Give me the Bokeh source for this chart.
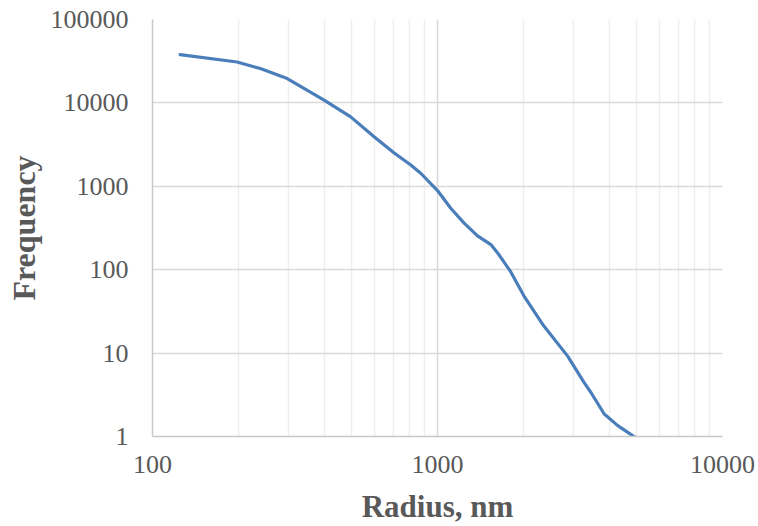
from bokeh.plotting import figure
from bokeh.models import FixedTicker, NumeralTickFormatter
from bokeh.embed import file_html
from bokeh.resources import INLINE

# Data (radius in nm, frequency)
radius = [125, 198, 239, 297, 400, 496, 599, 703, 806, 873, 1000, 1113, 1240,
          1382, 1539, 1626, 1808, 2014, 2362, 2862, 3266, 3455, 3846,
          4290, 5000]
frequency = [37900, 30900, 25800, 19600, 10800, 6800, 3930, 2520, 1800, 1434,
             890, 545, 362, 255, 200, 159, 94, 48, 21.1, 9.2, 4.45, 3.37, 1.86,
             1.35, 0.95]

x_major = [100, 1000, 10000]
x_minor = [200, 300, 400, 500, 600, 700, 800, 900,
           2000, 3000, 4000, 5000, 6000, 7000, 8000, 9000]
y_major = [1, 10, 100, 1000, 10000, 100000]

x_title = "Radius, nm"
y_title = "Frequency"

FONT = "Liberation Serif"
TXT = "#595959"

p = figure(width=758, height=526, x_axis_type="log", y_axis_type="log",
           x_range=(100, 10000), y_range=(1, 100000),
           output_backend="svg", toolbar_location=None,
           min_border_left=152, min_border_right=36,
           min_border_top=19, min_border_bottom=89)
p.outline_line_color = None
p.background_fill_color = "white"
p.border_fill_color = "white"

p.xgrid.ticker = FixedTicker(ticks=x_major, minor_ticks=x_minor)
p.xgrid.grid_line_color = "#d9d9d9"
p.xgrid.grid_line_width = 1.5
p.xgrid.minor_grid_line_color = "#eeeeee"
p.xgrid.minor_grid_line_width = 1.5
p.ygrid.ticker = FixedTicker(ticks=y_major)
p.ygrid.grid_line_color = "#d9d9d9"
p.ygrid.grid_line_width = 1.5

p.xaxis.ticker = FixedTicker(ticks=x_major)
p.yaxis.ticker = FixedTicker(ticks=y_major)
for ax in (p.xaxis, p.yaxis):
    ax.formatter = NumeralTickFormatter(format="0")
    ax.major_tick_line_color = None
    ax.minor_tick_line_color = None
    ax.axis_line_color = "#c8c8c8"
    ax.axis_line_width = 1.5
    ax.major_label_text_font = FONT
    ax.major_label_text_font_size = "26px"
    ax.major_label_text_color = TXT
    ax.axis_label_text_font = FONT
    ax.axis_label_text_font_style = "bold"
    ax.axis_label_text_color = TXT
    ax.axis_label_text_line_height = 1.0

p.xaxis.axis_label = x_title
p.yaxis.axis_label = y_title
p.xaxis.axis_label_text_font_size = "31px"
p.yaxis.axis_label_text_font_size = "32px"
p.xaxis.major_label_standoff = 13
p.yaxis.major_label_standoff = 18
p.xaxis.axis_label_standoff = 13
p.yaxis.axis_label_standoff = 6

p.line(radius, frequency, line_color="#4a7ebb", line_width=3.2,
       line_join="round", line_cap="round")

open("out.html", "w").write(file_html(p, INLINE))
